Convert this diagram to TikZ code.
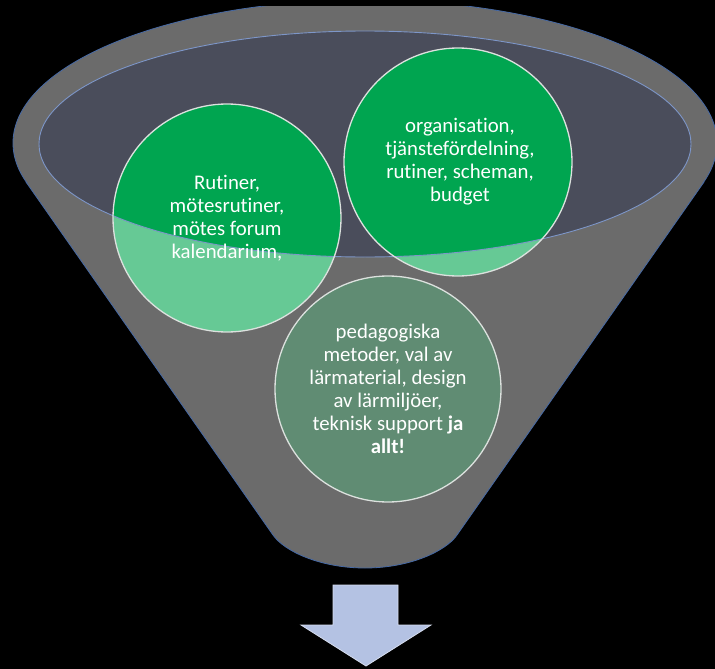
\documentclass[tikz,border=0pt]{standalone}
\usepackage{fontspec}
\setmainfont{Carlito}[Ligatures=NoCommon]
\definecolor{funnelgray}{RGB}{107,107,107}
\definecolor{funneledge}{RGB}{70,105,165}
\definecolor{innerfill}{RGB}{74,77,91}
\definecolor{innerline}{RGB}{125,150,200}
\definecolor{deepgreen}{RGB}{0,165,80}
\definecolor{palegreen}{RGB}{102,201,149}
\definecolor{mutedgreen}{RGB}{96,140,115}
\definecolor{ringcol}{RGB}{220,225,222}
\definecolor{arrowfill}{RGB}{180,194,227}
\definecolor{arrowedge}{RGB}{215,222,240}
\begin{document}
\begin{tikzpicture}[x=1pt,y=-1pt,
  ring/.style={draw=ringcol, line width=1.3pt},
  label/.style={text=white, align=center, font=\fontsize{20.8}{23}\selectfont, inner sep=0pt}]
\fill[black] (0,0) rectangle (715,669);
\useasboundingbox (0,0) rectangle (715,669);
% funnel body
\begin{scope}
  \clip (0,7) rectangle (715,669);
  \fill[funnelgray] (365,143) ellipse [x radius=352, y radius=143];
  \fill[funnelgray] (26,182) -- (704,182) -- (457,535)
     .. controls (446,551) and (410,568) .. (365,568)
     .. controls (320,568) and (284,551) .. (273,535) -- cycle;
\end{scope}
\begin{scope}
  \clip (0,7) rectangle (715,182);
  \draw[funneledge, line width=0.8pt] (365,143) ellipse [x radius=352, y radius=143];
\end{scope}
\draw[funneledge, line width=0.8pt] (26,182) -- (273,535)
     .. controls (284,551) and (320,568) .. (365,568)
     .. controls (410,568) and (446,551) .. (457,535) -- (704,182);
% inner ellipse
\fill[innerfill] (365,144) ellipse [x radius=326, y radius=113];
% circles
\coordinate (cl) at (227,218);
\coordinate (cr) at (458,162);
\coordinate (cb) at (388,389);
\fill[palegreen] (cl) circle [radius=114];
\fill[palegreen] (cr) circle [radius=114];
\begin{scope}
  \clip (365,144) ellipse [x radius=326, y radius=113];
  \fill[deepgreen] (cl) circle [radius=114];
  \fill[deepgreen] (cr) circle [radius=114];
\end{scope}
\draw[innerline, line width=0.9pt] (365,144) ellipse [x radius=326, y radius=113];
\draw[ring] (cl) circle [radius=114];
\draw[ring] (cr) circle [radius=114];
\fill[mutedgreen] (cb) circle [radius=113];
\draw[ring] (cb) circle [radius=113];
% labels
\node[label] (tl) at (227,218) {Rutiner,\\mötesrutiner,\\mötes forum\\kalendarium,};
\node[label] (tr) at (460,162) {organisation,\\tjänstefördelning,\\rutiner, scheman,\\budget};
\node[label] (tb) at (388,389) {pedagogiska\\metoder, val av\\lärmaterial, design\\av lärmiljöer,\\teknisk support \textbf{ja}\\\textbf{allt!}};
% arrow
\fill[arrowfill] (333,585) -- (398,585) -- (398,625) -- (431,625) -- (366,666)
   -- (301,625) -- (333,625) -- cycle;
\draw[arrowedge, line width=0.8pt] (333,585) -- (398,585) -- (398,625) -- (431,625) -- (366,666)
   -- (301,625) -- (333,625) -- cycle;
\end{tikzpicture}
\end{document}
